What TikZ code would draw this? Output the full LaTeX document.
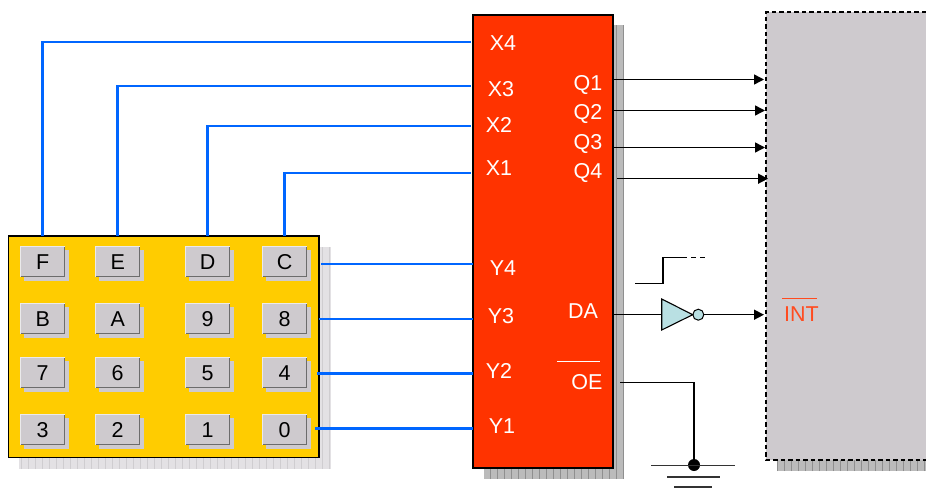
\documentclass[tikz,border=0pt]{standalone}
\usepackage{fontspec}
\setmainfont{Liberation Sans}
\usetikzlibrary{arrows.meta,calc}
\definecolor{chipred}{HTML}{FF3300}
\definecolor{padyellow}{HTML}{FFCC00}
\definecolor{cpugray}{HTML}{CECACE}
\definecolor{wireblue}{HTML}{0066FF}
\definecolor{invfill}{HTML}{B9E0E3}
\definecolor{intred}{HTML}{FF4B1F}
\definecolor{padshadow}{HTML}{E3E1E4}
\definecolor{padgrid}{HTML}{CFCDD0}
\definecolor{chipshadow}{HTML}{BBBBBB}
\definecolor{chipgrid}{HTML}{8F8F8F}
\newcommand{\gridshadow}[6]{%
  \fill[#5] (#1,#2) rectangle (#3,#4);
  \begin{scope}
    \clip (#1,#2) rectangle (#3,#4);
    \draw[#6,line width=0.8pt,step=7] (#1,#2) grid (#3,#4);
  \end{scope}}
\tikzset{
  lab/.style={font=\fontsize{21.5}{25}\selectfont,text height=15.5pt,text depth=0pt,inner sep=0pt,anchor=center},
  chiplab/.style={lab,text=white},
  keyb/.style={lab,text=black,fill=cpugray,minimum width=45pt,minimum height=31pt,text width=45pt,align=center},
  bluewire/.style={wireblue,line width=2.9pt},
  sig/.style={black,line width=1.5pt},
  sigarrow/.style={sig,-{Triangle[length=10pt,width=10pt]}},
  blockbox/.style={inner sep=0pt,outer sep=0pt,anchor=north west}
}
\newcommand{\keycap}[4]{%
  \fill[cpugray] (#2+4,#3+4) rectangle (#2+49,#3+35);
  \node[keyb,anchor=north west] (#1) at (#2,#3) {#4};
  \draw[white!60!cpugray,line width=1.2pt] (#2+0.5,#3+31) -- (#2+0.5,#3+0.5) -- (#2+45,#3+0.5);
  \draw[gray!85!black,line width=1.2pt] (#2+0.5,#3+30.5) -- (#2+44.5,#3+30.5) -- (#2+44.5,#3+0.5);
}
\begin{document}
\begin{tikzpicture}[x=1pt,y=-1pt]
\useasboundingbox (0,0) rectangle (926,492);
% shadows
\gridshadow{19}{247}{331}{469}{padshadow}{padgrid}
\gridshadow{484}{25}{624}{479}{chipshadow}{chipgrid}
\gridshadow{777}{455}{926}{471}{chipshadow}{chipgrid}
% blocks
\node[blockbox,fill=padyellow,draw=black,line width=1.3pt,minimum width=310.5pt,minimum height=221.5pt] (pad) at (8.5,236) {};
\node[blockbox,fill=chipred,draw=black,line width=1.3pt,minimum width=140pt,minimum height=453pt] (chip) at (473,15) {};
\node[blockbox,fill=cpugray,minimum width=160pt,minimum height=448pt] (cpu) at (766,12) {};
\draw[black,line width=1.2pt,dash pattern=on 4.5pt off 3pt] (cpu.north east) -- (cpu.north west) -- (cpu.south west) -- (cpu.south east);
% keys
\keycap{kF}{20}{246}{F}\keycap{kE}{95}{246}{E}\keycap{kD}{185}{246}{D}\keycap{kC}{262}{246}{C}
\keycap{kB}{20}{303}{B}\keycap{kA}{95}{303}{A}\keycap{kN}{185}{303}{9}\keycap{kH}{262}{303}{8}
\keycap{kS}{20}{357}{7}\keycap{kSx}{95}{357}{6}\keycap{kV}{185}{357}{5}\keycap{kIV}{262}{357}{4}
\keycap{kIII}{20}{414}{3}\keycap{kII}{95}{414}{2}\keycap{kI}{185}{414}{1}\keycap{kO}{262}{414}{0}
% chip labels
\node[chiplab] (x4) at (503,43) {X4};
\node[chiplab] (x3) at (501,89) {X3};
\node[chiplab] (x2) at (499,125) {X2};
\node[chiplab] (x1) at (499,168) {X1};
\node[chiplab] (y4) at (503,268) {Y4};
\node[chiplab] (y3) at (501,316) {Y3};
\node[chiplab] (y2) at (499,371) {Y2};
\node[chiplab] (y1) at (502,426) {Y1};
\node[chiplab] (q1) at (588,83) {Q1};
\node[chiplab] (q2) at (588,112) {Q2};
\node[chiplab] (q3) at (588,142) {Q3};
\node[chiplab] (q4) at (588,171) {Q4};
\node[chiplab] (da) at (583,311) {DA};
\node[chiplab] (oe) at (587,382) {OE};
\draw[white,line width=1pt] (557,361.5) -- (600,361.5);
% port coordinates
\coordinate (px4) at ($(chip.west |- 0,42)+(-2,0)$);
\coordinate (px3) at ($(chip.west |- 0,86)+(-2,0)$);
\coordinate (px2) at ($(chip.west |- 0,126)+(-2,0)$);
\coordinate (px1) at ($(chip.west |- 0,173)+(-2,0)$);
% column wires
\draw[bluewire] (kF.north |- pad.north) |- (px4);
\draw[bluewire] (kE.north |- pad.north) |- (px3);
\draw[bluewire] (kD.north |- pad.north) |- (px2);
\draw[bluewire] (kC.north |- pad.north) |- (px1);
% row wires
\coordinate (r4) at (321,264);
\coordinate (r3) at (319,319);
\coordinate (r2) at (317,373.7);
\coordinate (r1) at (315,428.7);
\draw[bluewire] (r4) -- (r4 -| chip.west);
\draw[bluewire] (r3) -- (r3 -| chip.west);
\draw[bluewire] (r2) -- (r2 -| chip.west);
\draw[bluewire] (r1) -- (r1 -| chip.west);
% Q arrows
\coordinate (a1) at (764,79.5);
\coordinate (a2) at (765,110.5);
\coordinate (a3) at (765,147.5);
\coordinate (a4) at (768,178.7);
\draw[sigarrow] (a1 -| chip.east) -- (a1);
\draw[sigarrow] (a2 -| chip.east) -- (a2);
\draw[sigarrow] (a3 -| chip.east) -- (a3);
\draw[sigarrow] ($(a4 -| chip.east)+(4,0)$) -- (a4);
% step waveform
\coordinate (w0) at (635,283.3);
\coordinate (w1) at (663,283.3);
\coordinate (w2) at (663,257.5);
\coordinate (w3) at (682,257.5);
\coordinate (w4) at (708,257.5);
\draw[sig,line width=1.1pt] (w0) -- (w1) -- (w2) -- (w3);
\draw[sig,line width=1.1pt,dash pattern=on 5pt off 4pt] (w3) -- (w4);
% inverter
\coordinate (invL) at (661.7,314.7);
\node[circle,draw=black,fill=invfill,line width=1pt,minimum size=11pt,inner sep=0pt] (bub) at (698.3,314.7) {};
\coordinate (intp) at (764,314.7);
\draw[sig,line width=1.2pt] (invL -| chip.east) -- (invL);
\draw[black,fill=invfill,line width=1.1pt,line join=miter] (661.7,299) -- (692.7,314.7) -- (661.7,330) -- cycle;
\draw[sigarrow] (bub.east) -- (intp);
\node[lab,text=intred] (int) at (801.5,313.5) {INT};
\draw[intred,line width=1.4pt] (782,298.7) -- (817,298.7);
% OE to ground
\coordinate (oes) at (620,382.7);
\node[circle,fill=black,minimum size=12pt,inner sep=0pt] (gnd) at (694,465) {};
\draw[sig,line width=1.2pt] (oes) -| (gnd.center);
\draw[black!80,line width=1.2pt] (651,465.7) -- (735,465.7);
\draw[black!80,line width=1.2pt] (667,477) -- (720,477);
\draw[black!80,line width=1.2pt] (674,487) -- (712,487);
\end{tikzpicture}
\end{document}
